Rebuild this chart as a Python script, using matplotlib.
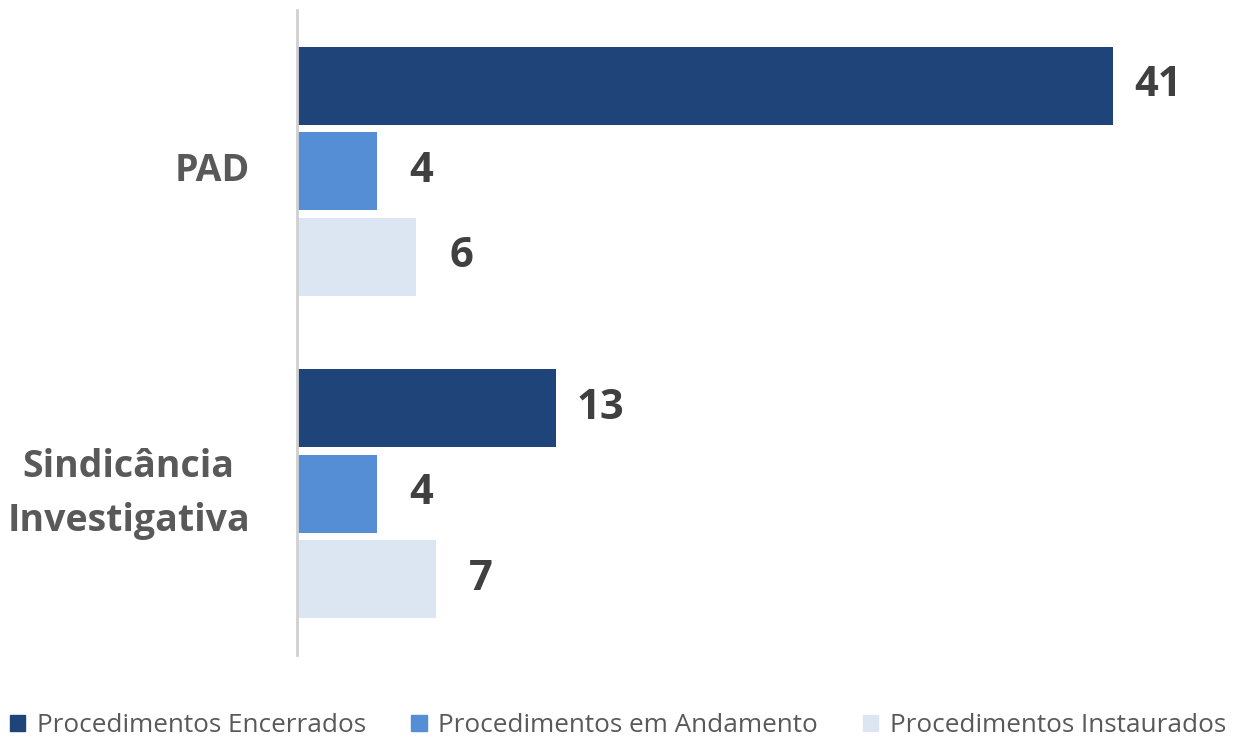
import matplotlib.pyplot as plt
import matplotlib.patches as mpatches
import matplotlib.transforms as mtransforms
import numpy as np

categories = ['PAD', 'Sindicância\nInvestigativa']
series_names = ['Procedimentos Encerrados', 'Procedimentos em Andamento',
                'Procedimentos Instaurados']
encerrados = [41, 13]
andamento = [4, 4]
instaurados = [6, 7]
colors = ['#1F4479', '#558ED5', '#DCE6F2']

plt.rcParams['font.family'] = ['Open Sans', 'DejaVu Sans']

fig = plt.figure(figsize=(12.36, 7.40), dpi=100)
ax = fig.add_axes([0.2403, 0.1149, 0.74, 0.8716])

px = 19.88  # pixels per unit on the x axis
y = np.arange(len(categories))
step = 0.265
height = 0.242
values = [encerrados, andamento, instaurados]
for i, (vals, col) in enumerate(zip(values, colors)):
    pos = y + (i - 1) * step
    ax.barh(pos, vals, height=height, color=col, edgecolor='none')
    for p, v in zip(pos, vals):
        ax.text(v + 45 / px, p, str(v), ha='center', va='center',
                fontsize=30, fontweight='bold', color='#404040')

ax.set_xlim(0, 914 / px)
ax.set_ylim(1.5, -0.5)

# category labels sit 47 px left of the axis line
trans = mtransforms.blended_transform_factory(ax.transAxes, ax.transData)
t = mtransforms.offset_copy(trans, fig=fig, x=-47, y=0, units='dots')
for yy, cat in zip(y, categories):
    ax.text(0, yy, cat, transform=t, ha='right', va='center',
            multialignment='center', fontsize=27, fontweight='bold',
            color='#595959', linespacing=1.55)

ax.set_yticks([])
ax.set_xticks([])
for s in ['top', 'right', 'bottom']:
    ax.spines[s].set_visible(False)
ax.spines['left'].set_color('#D0D0D0')
ax.spines['left'].set_linewidth(2)

handles = [mpatches.Patch(color=c, label=n) for c, n in zip(colors, series_names)]
fig.legend(handles=handles, loc='center', ncol=3, frameon=False,
           bbox_to_anchor=(0.5, 0.019), fontsize=18.8, handlelength=0.58,
           handleheight=0.58, handletextpad=0.43, columnspacing=1.75,
           labelcolor='#595959')

fig.savefig('out.png', dpi=100)
